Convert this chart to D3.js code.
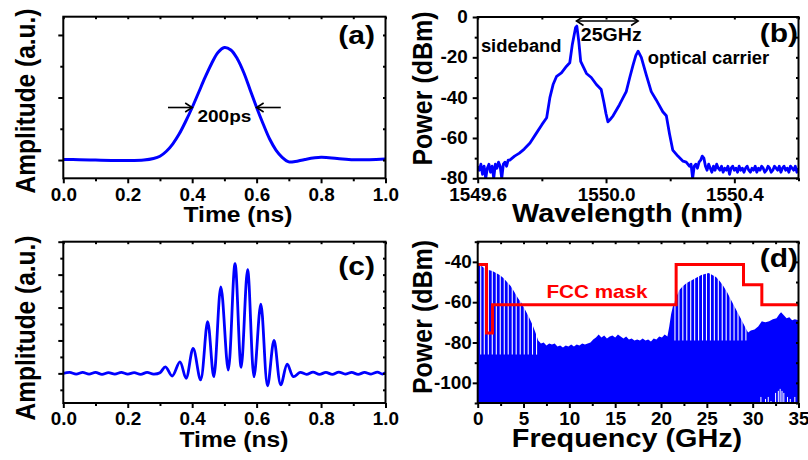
<!DOCTYPE html>
<html>
<head>
<meta charset="utf-8">
<script src="https://cdn.jsdelivr.net/npm/d3@7"></script>
<style>
  body { margin: 0; background: #fff; }
  svg text { font-family: "Liberation Sans", Arial, sans-serif; font-weight: bold; }
</style>
</head>
<body>
<svg width="808" height="460"></svg>
<script>
// ---------- data ----------
// (a) input pulse, time (ns) vs amplitude (a.u.)
const pulseA = [
  [0, 0.005], [0.05, 0.003], [0.1, 0.0], [0.15, -0.003], [0.2, -0.004], [0.25, 0.0],
  [0.28, 0.012], [0.3, 0.03], [0.32, 0.07], [0.34, 0.13], [0.36, 0.21], [0.38, 0.31],
  [0.4, 0.42], [0.42, 0.54], [0.44, 0.66], [0.46, 0.77], [0.48, 0.86], [0.5, 0.9],
  [0.52, 0.88], [0.54, 0.81], [0.56, 0.7], [0.58, 0.56], [0.6, 0.42], [0.62, 0.29],
  [0.64, 0.17], [0.66, 0.08], [0.68, 0.02], [0.7, -0.015], [0.72, -0.012], [0.75, 0.005],
  [0.8, 0.022], [0.85, 0.012], [0.9, 0.002], [0.95, 0.003], [1.0, 0.008]
];
const fwhmA = [0.4, 0.6];      // 200 ps markers
const halfLevelA = 0.42;

// (b) optical spectrum, wavelength (nm) vs power (dBm)
const specB = [
  [1549.600, -74], [1549.605, -76], [1549.610, -73], [1549.615, -78], [1549.620, -74],
  [1549.625, -80], [1549.630, -75], [1549.635, -73], [1549.640, -77], [1549.645, -74],
  [1549.650, -80], [1549.655, -73], [1549.660, -75], [1549.665, -72], [1549.670, -74],
  [1549.675, -80], [1549.680, -73], [1549.685, -72], [1549.690, -74], [1549.695, -71],
  [1549.700, -71], [1549.715, -69], [1549.730, -67.5], [1549.745, -65.5], [1549.763, -62.5],
  [1549.783, -57.6], [1549.800, -53.4], [1549.815, -50], [1549.825, -40], [1549.835, -33.5],
  [1549.846, -29.4], [1549.861, -27.7], [1549.877, -24.4], [1549.887, -22.7], [1549.895, -13.6],
  [1549.905, -5.3], [1549.909, -4.5], [1549.915, -12], [1549.921, -22], [1549.930, -25],
  [1549.939, -28], [1549.954, -30], [1549.970, -33.5], [1549.985, -36], [1549.993, -42],
  [1550.000, -48], [1550.006, -52], [1550.012, -51], [1550.022, -49], [1550.042, -43.5],
  [1550.063, -37], [1550.074, -30], [1550.084, -24], [1550.093, -19], [1550.100, -17],
  [1550.110, -20], [1550.125, -28.5], [1550.141, -37], [1550.156, -41], [1550.177, -47],
  [1550.188, -49], [1550.198, -58], [1550.208, -66], [1550.224, -69], [1550.240, -71.5],
  [1550.250, -72], [1550.255, -73], [1550.260, -74], [1550.265, -73], [1550.270, -80],
  [1550.275, -74], [1550.280, -73], [1550.285, -75], [1550.290, -72], [1550.295, -71],
  [1550.300, -69], [1550.305, -70], [1550.310, -74], [1550.315, -76], [1550.320, -73],
  [1550.325, -75], [1550.330, -77], [1550.335, -74], [1550.340, -76], [1550.345, -73],
  [1550.350, -75], [1550.355, -76], [1550.360, -74], [1550.365, -77], [1550.370, -75],
  [1550.375, -76], [1550.380, -74], [1550.385, -78], [1550.390, -75], [1550.395, -74],
  [1550.400, -76], [1550.405, -75], [1550.410, -77], [1550.415, -74], [1550.420, -76],
  [1550.425, -75], [1550.430, -77], [1550.435, -75], [1550.440, -74], [1550.445, -76],
  [1550.450, -77], [1550.455, -75], [1550.460, -76], [1550.465, -74], [1550.470, -77],
  [1550.475, -75], [1550.480, -76], [1550.485, -74], [1550.490, -75], [1550.495, -77],
  [1550.500, -76], [1550.505, -74], [1550.510, -75], [1550.515, -77], [1550.520, -76],
  [1550.525, -74], [1550.530, -75], [1550.535, -76], [1550.540, -74], [1550.545, -77],
  [1550.550, -75], [1550.555, -74], [1550.560, -76], [1550.565, -75], [1550.570, -77],
  [1550.575, -74], [1550.580, -75], [1550.585, -76], [1550.590, -74], [1550.595, -77],
  [1550.600, -75]
];
const spacingB = [1549.908, 1550.1];   // 25 GHz arrow

// (c) UWB output, time (ns) vs amplitude (a.u.)
const waveC = [
  [0, 0], [0.02, 0.03], [0.04, -0.02], [0.06, 0.03], [0.08, -0.02], [0.1, 0.03],
  [0.12, -0.03], [0.14, 0.02], [0.16, -0.02], [0.18, 0.03], [0.2, -0.02], [0.22, 0.02],
  [0.24, -0.03], [0.26, 0.03], [0.28, -0.02], [0.3, 0.02],
  [0.317, 0.2], [0.338, -0.08], [0.362, 0.35], [0.381, -0.15], [0.403, 0.76],
  [0.426, -0.2], [0.448, 1.57], [0.467, -0.1], [0.489, 2.63], [0.512, 0.1],
  [0.533, 3.33], [0.552, 0.18], [0.572, 3.15], [0.592, -0.1], [0.613, 2.1],
  [0.634, -0.38], [0.654, 1.0], [0.675, -0.35], [0.695, 0.28], [0.714, -0.1],
  [0.735, 0.03], [0.755, -0.03], [0.775, 0.04], [0.795, -0.03], [0.815, 0.03],
  [0.835, -0.03], [0.855, 0.04], [0.875, -0.02], [0.895, 0.03], [0.915, -0.03],
  [0.935, 0.03], [0.955, -0.02], [0.975, 0.04], [0.99, -0.02], [1.0, 0.02]
];

// (d) electrical spectrum envelope, frequency (GHz) vs power (dBm)
const envD = [
  [0, -42], [0.3, -41.5], [0.7, -43], [1.2, -44], [1.6, -44.5], [2.0, -45.5], [2.4, -46.5],
  [2.8, -48], [3.2, -50], [3.6, -52], [4.0, -55], [4.4, -58], [4.8, -60.5], [5.2, -64],
  [5.6, -67.5], [6.0, -71.5], [6.3, -75], [6.6, -79], [6.9, -80.5], [7.2, -80], [7.5, -81.5],
  [7.8, -80.5], [8.1, -81], [8.4, -80.5], [8.7, -82], [9.0, -81.5], [9.3, -82.5], [9.6, -81.5],
  [9.9, -82], [10.2, -81], [10.5, -82], [10.8, -81], [11.1, -81.5], [11.4, -80.5], [11.7, -81],
  [12.0, -80.5], [12.3, -80], [12.6, -78.5], [12.9, -77.5], [13.2, -76], [13.5, -77.5],
  [13.8, -76.5], [14.1, -78], [14.4, -77], [14.7, -76.5], [15.0, -77.5], [15.3, -76],
  [15.6, -77], [15.9, -78], [16.2, -77], [16.5, -78.5], [16.8, -78], [17.1, -79], [17.4, -78.5],
  [17.7, -79], [18.0, -78], [18.3, -79], [18.6, -78.5], [18.9, -79.5], [19.2, -78], [19.5, -78.5],
  [19.8, -77], [20.1, -77.5], [20.4, -76], [20.7, -77], [20.9, -72], [21.1, -66], [21.3, -62],
  [21.6, -58], [22.0, -54], [22.4, -52], [22.8, -50.5], [23.2, -49.5], [23.6, -48.5],
  [24.0, -47.5], [24.4, -46.5], [24.8, -46], [25.2, -45.5], [25.6, -46.5], [26.0, -47.5],
  [26.4, -49.5], [26.8, -52], [27.2, -55], [27.6, -58.5], [28.0, -62], [28.4, -65.5],
  [28.8, -69], [29.2, -72.5], [29.5, -75], [29.8, -74], [30.2, -73.5], [30.6, -72],
  [31.0, -69.5], [31.4, -70], [31.8, -69.5], [32.2, -68.5], [32.6, -68], [32.9, -66],
  [33.1, -65], [33.4, -66.5], [33.7, -68], [34.0, -67.5], [34.3, -69], [34.6, -68.5], [35, -69]
];
// dips between comb lines: [frequency, dip floor dBm]
const combLowD = [
  [0.33, -86], [0.72, -86], [1.16, -86], [1.59, -86], [2.03, -86], [2.46, -86], [2.90, -86],
  [3.33, -86], [3.77, -86], [4.20, -86], [4.64, -86], [5.08, -86], [5.51, -86], [5.98, -86],
  [6.42, -86]
];
const combHighD = [
  [21.52, -79], [21.95, -79], [22.38, -79], [22.81, -79], [23.24, -79], [23.67, -79],
  [24.10, -79], [24.53, -79], [24.96, -79], [25.39, -79], [25.82, -79], [26.25, -79],
  [26.68, -79], [27.11, -79], [27.54, -79], [27.97, -79], [28.40, -79], [28.83, -79],
  [29.26, -79]
];
// white dropouts at the bottom of the noise floor
const dropD = [
  [30.9, -107], [31.4, -108], [31.7, -107], [32.0, -109], [32.5, -105], [32.8, -104],
  [33.0, -103], [33.2, -104], [33.4, -105], [33.8, -107], [34.1, -108], [34.6, -107]
];
const fccMask = [
  [0, -41.3], [0.96, -41.3], [0.96, -75.3], [1.61, -75.3], [1.61, -61.3], [21.65, -61.3],
  [21.65, -41.3], [29.0, -41.3], [29.0, -51.3], [31.0, -51.3], [31.0, -61.3], [35, -61.3]
];

// ---------- ticks ----------
const timeTicks = [0, 0.2, 0.4, 0.6, 0.8, 1.0];
const timeMinor = [0.1, 0.3, 0.5, 0.7, 0.9];
const ampTicksA = [0, 0.5, 1.0];
const ampMinorA = [0.25, 0.75];
const ampTicksC = [0, 1, 2, 3, 4];
const ampMinorC = [-0.5, 0.5, 1.5, 2.5, 3.5];
const wlTicks = [1549.6, 1550.0, 1550.4];
const wlMinor = [1549.8, 1550.2, 1550.6];
const powTicksB = [0, -20, -40, -60, -80];
const powMinorB = [-10, -30, -50, -70];
const freqTicks = [0, 5, 10, 15, 20, 25, 30, 35];
const freqMinor = [2.5, 7.5, 12.5, 17.5, 22.5, 27.5, 32.5];
const powTicksD = [-40, -60, -80, -100];
const powMinorD = [-30, -50, -70, -90, -110];

// ---------- drawing ----------
const SX = 1.12;          // the original figure is stretched horizontally
const TSX = 1.08;         // tick label stretch
const BLUE = "#0000ff", RED = "#ff0000";
const svg = d3.select("svg");

function label(g, str, x, y, o = {}) {
  const sx = o.sx || SX;
  return g.append("text")
    .text(str)
    .attr("font-size", o.size || 22)
    .attr("text-anchor", o.anchor || "middle")
    .attr("fill", o.fill || "#000")
    .attr("transform", o.rotate
      ? `translate(${x},${y}) rotate(-90) scale(1,${sx})`
      : `translate(${x},${y}) scale(${sx},1)`);
}

function arrowHead(g, x, y, dir) {
  g.append("path")
    .attr("d", `M${x - dir * 7},${y - 4.5}L${x},${y}L${x - dir * 7},${y + 4.5}`)
    .attr("fill", "none").attr("stroke", "#000").attr("stroke-width", 1.6);
}

function makePanel(p) {
  const x = d3.scaleLinear().domain(p.xDomain).range([p.left, p.right]);
  const y = d3.scaleLinear().domain(p.yDomain).range([p.bottom, p.top]);
  const g = svg.append("g");
  g.append("clipPath").attr("id", "clip-" + p.id).append("rect")
    .attr("x", p.left).attr("y", p.top)
    .attr("width", p.right - p.left).attr("height", p.bottom - p.top);
  const plot = g.append("g").attr("clip-path", `url(#clip-${p.id})`);
  const ax = g.append("g");

  const tidy = sel => {
    sel.select(".domain").remove();
    sel.selectAll("line").attr("stroke", "#000").attr("stroke-width", 2);
  };
  // bottom
  ax.append("g").attr("transform", `translate(0,${p.bottom})`)
    .call(d3.axisBottom(x).tickValues(p.xTicks).tickSize(5).tickPadding(5).tickFormat(p.xFmt))
    .call(tidy)
    .call(s => s.selectAll("text").attr("font-size", 17.5).attr("fill", "#000")
      .attr("transform", `scale(${TSX},1)`));
  ax.append("g").attr("transform", `translate(0,${p.bottom})`)
    .call(d3.axisBottom(x).tickValues(p.xMinor).tickSize(3).tickFormat(""))
    .call(tidy);
  // left
  ax.append("g").attr("transform", `translate(${p.left},0)`)
    .call(d3.axisLeft(y).tickValues(p.yTicks).tickSize(5).tickPadding(p.yPad)
      .tickFormat(p.yFmt || ""))
    .call(tidy)
    .call(s => s.selectAll("text").attr("font-size", 17.5).attr("fill", "#000")
      .attr("x", -(5 + p.yPad) / TSX).attr("transform", `scale(${TSX},1)`));
  ax.append("g").attr("transform", `translate(${p.left},0)`)
    .call(d3.axisLeft(y).tickValues(p.yMinor).tickSize(3).tickFormat(""))
    .call(tidy);
  // top and right, inward
  ax.append("g").attr("transform", `translate(0,${p.top})`)
    .call(d3.axisTop(x).tickValues(p.xTicks.concat(p.xMinor)).tickSize(-2.5).tickFormat(""))
    .call(tidy);
  ax.append("g").attr("transform", `translate(${p.right},0)`)
    .call(d3.axisRight(y).tickValues(p.yTicks.concat(p.yMinor)).tickSize(-2.5).tickFormat(""))
    .call(tidy);
  // frame
  ax.append("rect")
    .attr("x", p.left).attr("y", p.top)
    .attr("width", p.right - p.left).attr("height", p.bottom - p.top)
    .attr("fill", "none").attr("stroke", "#000").attr("stroke-width", 2);

  return { g, plot, x, y };
}

const f1 = d3.format(".1f");
const plain = d => String(d);

// ----- (a) -----
const A = makePanel({
  id: "a", left: 63.3, right: 385.5, top: 16.7, bottom: 178.3,
  xDomain: [0, 1], yDomain: [-0.146, 1.146],
  xTicks: timeTicks, xMinor: timeMinor, yTicks: ampTicksA, yMinor: ampMinorA,
  xFmt: f1, yFmt: null, yPad: 5
});
A.plot.append("path").datum(pulseA)
  .attr("d", d3.line().x(d => A.x(d[0])).y(d => A.y(d[1])).curve(d3.curveCatmullRom))
  .attr("fill", "none").attr("stroke", BLUE).attr("stroke-width", 3);
{
  const yy = A.y(halfLevelA);
  A.g.append("line").attr("x1", A.x(fwhmA[0] - 0.075)).attr("x2", A.x(fwhmA[0]))
    .attr("y1", yy).attr("y2", yy).attr("stroke", "#000").attr("stroke-width", 1.6);
  arrowHead(A.g, A.x(fwhmA[0]), yy, 1);
  A.g.append("line").attr("x1", A.x(fwhmA[1] + 0.075)).attr("x2", A.x(fwhmA[1]))
    .attr("y1", yy).attr("y2", yy).attr("stroke", "#000").attr("stroke-width", 1.6);
  arrowHead(A.g, A.x(fwhmA[1]), yy, -1);
  label(A.g, "200ps", A.x(0.5), yy + 14, { size: 17 });
}
label(A.g, "(a)", 375, 44, { size: 25, anchor: "end", sx: 1.2 });
label(A.g, "Time (ns)", 238, 221.7, { size: 22 });
label(A.g, "Amplitude (a.u.)", 35, 101, { size: 24.5, rotate: true });

// ----- (b) -----
const B = makePanel({
  id: "b", left: 477.7, right: 798.5, top: 17, bottom: 178.3,
  xDomain: [1549.6, 1550.6], yDomain: [-80, 0],
  xTicks: wlTicks, xMinor: wlMinor, yTicks: powTicksB, yMinor: powMinorB,
  xFmt: f1, yFmt: plain, yPad: 5
});
B.plot.append("path").datum(specB)
  .attr("d", d3.line().x(d => B.x(d[0])).y(d => B.y(d[1])))
  .attr("fill", "none").attr("stroke", BLUE).attr("stroke-width", 2.8)
  .attr("stroke-linejoin", "round");
{
  const yy = B.y(-2);
  B.g.append("line").attr("x1", B.x(spacingB[0])).attr("x2", B.x(spacingB[1]))
    .attr("y1", yy).attr("y2", yy).attr("stroke", "#000").attr("stroke-width", 1.6);
  arrowHead(B.g, B.x(spacingB[0]), yy, -1);
  arrowHead(B.g, B.x(spacingB[1]), yy, 1);
  label(B.g, "25GHz", B.x((spacingB[0] + spacingB[1]) / 2) + 4, B.y(-12), { size: 17.5 });
}
label(B.g, "sideband", B.x(1549.61), B.y(-17.5), { size: 17.5, anchor: "start", sx: 1.05 });
label(B.g, "optical carrier", B.x(1550.13), B.y(-23.5), { size: 17.5, anchor: "start", sx: 1.05 });
label(B.g, "(b)", 798, 41.5, { size: 25, anchor: "end", sx: 1.2 });
label(B.g, "Wavelength (nm)", 627.5, 221.7, { size: 25.5, sx: 1.13 });
label(B.g, "Power (dBm)", 431.7, 88.5, { size: 25, rotate: true });

// ----- (c) -----
const C = makePanel({
  id: "c", left: 63.3, right: 385.5, top: 241.7, bottom: 403,
  xDomain: [0, 1], yDomain: [-0.9, 4.0],
  xTicks: timeTicks, xMinor: timeMinor, yTicks: ampTicksC, yMinor: ampMinorC,
  xFmt: f1, yFmt: null, yPad: 5
});
C.plot.append("path").datum(waveC)
  .attr("d", d3.line().x(d => C.x(d[0])).y(d => C.y(d[1])).curve(d3.curveCatmullRom))
  .attr("fill", "none").attr("stroke", BLUE).attr("stroke-width", 2.8);
label(C.g, "(c)", 375, 275, { size: 25, anchor: "end", sx: 1.2 });
label(C.g, "Time (ns)", 234, 446.7, { size: 22 });
label(C.g, "Amplitude (a.u.)", 35, 328, { size: 24.5, rotate: true });

// ----- (d) -----
const D = makePanel({
  id: "d", left: 477.7, right: 798.5, top: 241.7, bottom: 403,
  xDomain: [0, 35], yDomain: [-110, -30],
  xTicks: freqTicks, xMinor: freqMinor, yTicks: powTicksD, yMinor: powMinorD,
  xFmt: plain, yFmt: plain, yPad: 1
});
D.plot.append("path").datum(envD)
  .attr("d", d3.area().x(d => D.x(d[0])).y0(D.y(-110)).y1(d => D.y(d[1])))
  .attr("fill", BLUE);
D.plot.selectAll("line.comb").data(combLowD.concat(combHighD)).enter()
  .append("line").attr("class", "comb")
  .attr("x1", d => D.x(d[0])).attr("x2", d => D.x(d[0]))
  .attr("y1", d => D.y(d[1])).attr("y2", D.y(-30))
  .attr("stroke", "#fff").attr("stroke-width", 1.1);
D.plot.selectAll("line.drop").data(dropD).enter()
  .append("line").attr("class", "drop")
  .attr("x1", d => D.x(d[0])).attr("x2", d => D.x(d[0]))
  .attr("y1", d => D.y(d[1])).attr("y2", D.y(-110))
  .attr("stroke", "#fff").attr("stroke-width", 1);
D.plot.append("path").datum(fccMask)
  .attr("d", d3.line().x(d => D.x(d[0])).y(d => D.y(d[1])))
  .attr("fill", "none").attr("stroke", RED).attr("stroke-width", 3);
label(D.g, "FCC mask", D.x(7.5), D.y(-57.7), { size: 18, anchor: "start", fill: RED, sx: 1.15 });
label(D.g, "(d)", 798, 267, { size: 25, anchor: "end", sx: 1.2 });
label(D.g, "Frequency (GHz)", 627, 446.7, { size: 25.5, sx: 1.13 });
label(D.g, "Power (dBm)", 431.7, 317, { size: 25, rotate: true });
</script>
</body>
</html>
